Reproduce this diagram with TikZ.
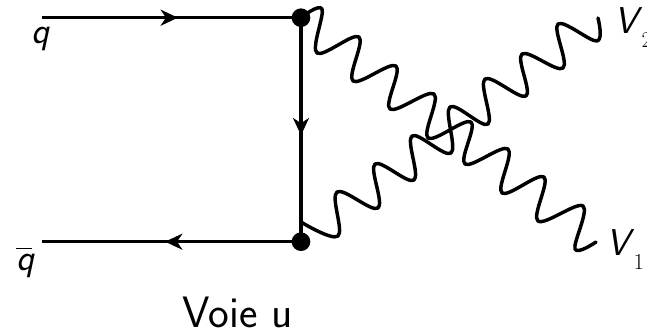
\documentclass[tikz,border=0pt]{standalone}
\usepackage{tikz}
\usetikzlibrary{arrows.meta, decorations.markings}
\newcommand{\sublabel}[1]{\raisebox{-11pt}{\hspace{3pt}\fontsize{17}{17}\selectfont\rmfamily\upshape #1}}
\tikzset{
  vertexdot/.style={circle, fill=black, inner sep=0pt, minimum size=14pt},
  fermion/.style={line width=2.4pt, postaction={decorate},
    decoration={markings, mark=at position #1 with {\arrow{Stealth[length=13pt, width=12pt, inset=4pt]}}}},
  boson/.style={line width=2.6pt, line join=round, line cap=round},
  particle/.style={anchor=base west, inner sep=0pt, font=\fontsize{28}{28}\selectfont\sffamily\itshape},
  title/.style={anchor=base west, inner sep=0pt, font=\fontsize{33}{33}\selectfont\sffamily}
}
\begin{document}
\begin{tikzpicture}[x=0.75pt, y=-0.75pt]
  \useasboundingbox (0,0) rectangle (647,333);
  \coordinate (qin) at (42,17.7);
  \coordinate (qout) at (42,241.7);
  \node[vertexdot] (vtop) at (301,17.7) {};
  \node[vertexdot] (vbot) at (301,241.7) {};
  \node[particle] (q) at (31,43) {q};
  \node[particle] (qbar) at (16,270) {\rlap{\rule[15.5pt]{12pt}{1.3pt}}q};
  \node[particle] (v2) at (614,33) {V\sublabel{2}};
  \node[particle] (v1) at (606,255) {V\sublabel{1}};
  \node[title] (voie) at (182,327) {Voie u};
  \coordinate (v2end) at (598,18);
  \coordinate (v1end) at (596,242);
  \draw[fermion=0.525] (qin) -- (vtop.center);
  \draw[fermion=0.525] (vtop.center) -- (vbot.center);
  \draw[fermion=0.525] (vbot.center) -- (qout);
  % wavy lines
  \draw[boson] plot[smooth, tension=0.6] coordinates {(vtop.center) (322,9) (317,53) (359,37) (353,81) (396,66) (390,109) (434,94) (428,138) (471,122) (465,164) (508,149) (502,193) (544,177) (538,221) (583,206) (575,249) (v1end)};
  \draw[boson] plot[smooth, tension=0.6] coordinates {(301,222) (338,236) (337,192) (378,208) (375,164) (414,180) (412,136) (451,153) (450,107) (488,124) (485,79) (526,96) (522,54) (563,68) (558,24) (597,41) (v2end)};
\end{tikzpicture}
\end{document}
